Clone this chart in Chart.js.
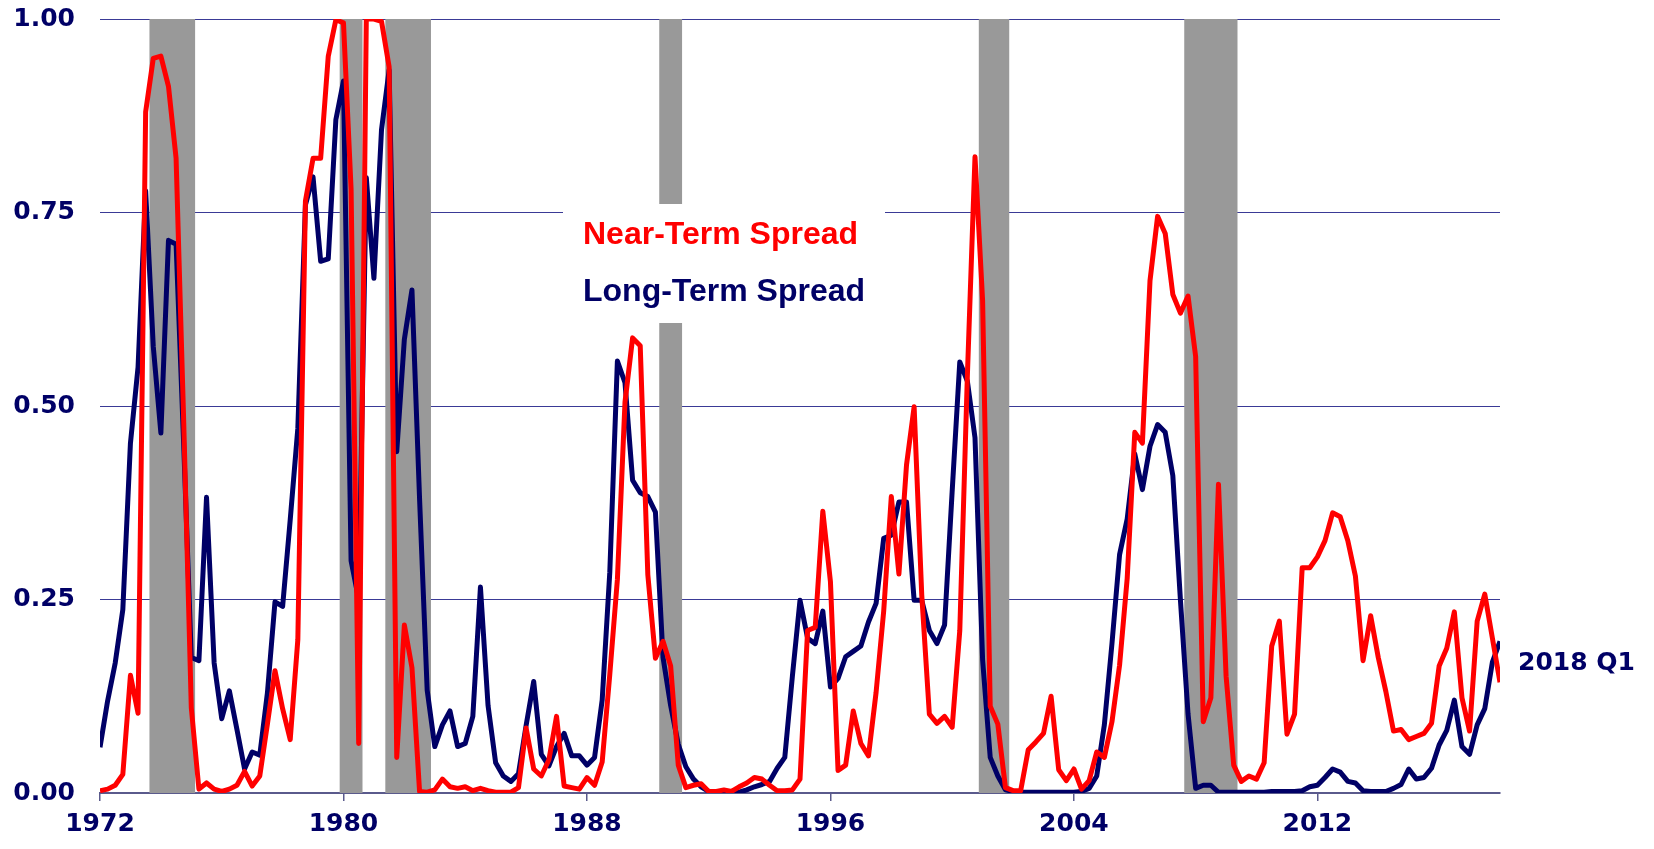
<!DOCTYPE html>
<html>
<head>
<meta charset="utf-8">
<title>Near-Term vs Long-Term Spread</title>
<script src="https://cdn.jsdelivr.net/npm/chart.js@4.4.1/dist/chart.umd.min.js"></script>
<style>
    html, body { margin: 0; padding: 0; background: #ffffff; }
    #wrap { width: 1654px; height: 849px; }
</style>
</head>
<body>
<div id="wrap"><canvas id="spreadChart" width="1654" height="849"></canvas></div>
<script>
// quarterly, 1972 Q1 .. 2018 Q1
const startYear = 1972;

const nearTerm = [
    0.003, 0.005, 0.010, 0.024,   // 1972
    0.152, 0.103, 0.880, 0.949,   // 1973
    0.952, 0.913, 0.820, 0.480,   // 1974
    0.110, 0.005, 0.013, 0.005,   // 1975
    0.002, 0.005, 0.010, 0.028,   // 1976
    0.009, 0.022, 0.089, 0.158,   // 1977
    0.109, 0.069, 0.198, 0.765,   // 1978
    0.820, 0.820, 0.952, 0.999,   // 1979
    0.995, 0.780, 0.064, 1.000,   // 1980
    1.000, 0.997, 0.938, 0.046,   // 1981
    0.217, 0.162, 0.002, 0.001,   // 1982
    0.004, 0.018, 0.008, 0.006,   // 1983
    0.008, 0.003, 0.006, 0.003,   // 1984
    0.001, 0.001, 0.001, 0.007,   // 1985
    0.084, 0.031, 0.022, 0.043,   // 1986
    0.099, 0.009, 0.007, 0.005,   // 1987
    0.020, 0.010, 0.040, 0.153,   // 1988
    0.276, 0.505, 0.588, 0.578,   // 1989
    0.282, 0.174, 0.196, 0.164,   // 1990
    0.036, 0.007, 0.010, 0.012,   // 1991
    0.002, 0.002, 0.004, 0.002,   // 1992
    0.008, 0.013, 0.020, 0.018,   // 1993
    0.010, 0.003, 0.003, 0.004,   // 1994
    0.018, 0.210, 0.214, 0.364,   // 1995
    0.273, 0.029, 0.036, 0.106,   // 1996
    0.064, 0.048, 0.130, 0.235,   // 1997
    0.383, 0.283, 0.424, 0.499,   // 1998
    0.256, 0.102, 0.090, 0.099,   // 1999
    0.085, 0.210, 0.540, 0.822,   // 2000
    0.636, 0.112, 0.089, 0.007,   // 2001
    0.003, 0.003, 0.056, 0.066,   // 2002
    0.077, 0.125, 0.030, 0.016,   // 2003
    0.031, 0.005, 0.016, 0.053,   // 2004
    0.046, 0.092, 0.165, 0.277,   // 2005
    0.466, 0.452, 0.662, 0.745,   // 2006
    0.723, 0.644, 0.620, 0.642,   // 2007
    0.564, 0.092, 0.123, 0.399,   // 2008
    0.151, 0.036, 0.015, 0.022,   // 2009
    0.018, 0.039, 0.190, 0.222,   // 2010
    0.076, 0.102, 0.291, 0.291,   // 2011
    0.305, 0.326, 0.362, 0.357,   // 2012
    0.326, 0.280, 0.171, 0.229,   // 2013
    0.175, 0.131, 0.080, 0.082,   // 2014
    0.069, 0.073, 0.077, 0.090,   // 2015
    0.164, 0.187, 0.234, 0.123,   // 2016
    0.080, 0.222, 0.257, 0.200,   // 2017
    0.143                         // 2018 Q1
];

const longTerm = [
    0.059, 0.119, 0.168, 0.237,   // 1972
    0.452, 0.550, 0.778, 0.577,   // 1973
    0.465, 0.714, 0.709, 0.450,   // 1974
    0.175, 0.171, 0.382, 0.168,   // 1975
    0.096, 0.132, 0.082, 0.031,   // 1976
    0.053, 0.049, 0.129, 0.247,   // 1977
    0.241, 0.353, 0.471, 0.760,   // 1978
    0.796, 0.687, 0.690, 0.870,   // 1979
    0.920, 0.300, 0.250, 0.795,   // 1980
    0.665, 0.857, 0.934, 0.441,   // 1981
    0.586, 0.650, 0.380, 0.133,   // 1982
    0.060, 0.088, 0.106, 0.060,   // 1983
    0.064, 0.099, 0.266, 0.113,   // 1984
    0.039, 0.022, 0.015, 0.025,   // 1985
    0.087, 0.144, 0.050, 0.035,   // 1986
    0.060, 0.077, 0.048, 0.048,   // 1987
    0.036, 0.046, 0.120, 0.285,   // 1988
    0.558, 0.530, 0.404, 0.388,   // 1989
    0.383, 0.363, 0.175, 0.113,   // 1990
    0.063, 0.034, 0.018, 0.008,   // 1991
    0.002, 0.001, 0.001, 0.001,   // 1992
    0.001, 0.004, 0.008, 0.011,   // 1993
    0.015, 0.032, 0.046, 0.151,   // 1994
    0.249, 0.200, 0.193, 0.235,   // 1995
    0.137, 0.148, 0.176, 0.183,   // 1996
    0.190, 0.221, 0.245, 0.329,   // 1997
    0.333, 0.376, 0.376, 0.249,   // 1998
    0.249, 0.210, 0.193, 0.217,   // 1999
    0.390, 0.557, 0.532, 0.459,   // 2000
    0.172, 0.046, 0.022, 0.004,   // 2001
    0.002, 0.001, 0.001, 0.001,   // 2002
    0.001, 0.001, 0.001, 0.001,   // 2003
    0.001, 0.002, 0.006, 0.022,   // 2004
    0.088, 0.193, 0.308, 0.354,   // 2005
    0.438, 0.392, 0.448, 0.476,   // 2006
    0.466, 0.410, 0.249, 0.102,   // 2007
    0.006, 0.010, 0.010, 0.001,   // 2008
    0.001, 0.001, 0.001, 0.001,   // 2009
    0.001, 0.001, 0.002, 0.002,   // 2010
    0.002, 0.002, 0.003, 0.008,   // 2011
    0.010, 0.020, 0.031, 0.027,   // 2012
    0.015, 0.013, 0.003, 0.002,   // 2013
    0.002, 0.002, 0.006, 0.011,   // 2014
    0.031, 0.018, 0.020, 0.032,   // 2015
    0.062, 0.081, 0.120, 0.060,   // 2016
    0.050, 0.088, 0.109, 0.169,   // 2017
    0.196                         // 2018 Q1
];

// NBER recessions, first and last quarter
const recessions = [
    ['1973Q4', '1975Q1'],
    ['1980Q1', '1980Q3'],
    ['1981Q3', '1982Q4'],
    ['1990Q3', '1991Q1'],
    ['2001Q1', '2001Q4'],
    ['2007Q4', '2009Q2']
];

const xTicks = [1972, 1980, 1988, 1996, 2004, 2012];
const yTicks = [0, 0.25, 0.5, 0.75, 1];
const seriesNames = ['Near-Term Spread', 'Long-Term Spread'];
const endLabel = '2018 Q1';

const RED = '#ff0000';
const NAVY = '#000066';
const GRID = '#3a3a96';

function quarterToYear(q) {
    const [y, n] = q.split('Q');
    return Number(y) + (Number(n) - 1) / 4;
}

const toPoints = arr => arr.map((v, i) => ({ x: startYear + i / 4, y: v }));

const recessionShading = {
    id: 'recessionShading',
    beforeDatasetsDraw(chart) {
        const { ctx, chartArea, scales: { x } } = chart;
        ctx.save();
        ctx.fillStyle = '#999999';
        recessions.forEach(([s, e]) => {
            const x0 = x.getPixelForValue(quarterToYear(s) - 0.125);
            const x1 = x.getPixelForValue(quarterToYear(e) + 0.125);
            ctx.fillRect(x0, chartArea.top, x1 - x0, chartArea.bottom - chartArea.top);
        });
        // white box behind the series names
        ctx.fillStyle = '#ffffff';
        ctx.fillRect(563, 204, 322, 119);
        ctx.font = 'bold 32px "Liberation Sans", Arial, sans-serif';
        ctx.textAlign = 'left';
        ctx.textBaseline = 'middle';
        ctx.fillStyle = RED;
        ctx.fillText(seriesNames[0], 583, 235);
        ctx.fillStyle = NAVY;
        ctx.fillText(seriesNames[1], 583, 292);
        ctx.restore();
    }
};

const endLabelPlugin = {
    id: 'endLabel',
    afterDraw(chart) {
        const { ctx, chartArea, scales: { y } } = chart;
        const last = (nearTerm[nearTerm.length - 1] + longTerm[longTerm.length - 1]) / 2;
        ctx.save();
        ctx.font = 'bold 25px "DejaVu Sans", Verdana, sans-serif';
        ctx.fillStyle = NAVY;
        ctx.textAlign = 'left';
        ctx.textBaseline = 'middle';
        ctx.fillText(endLabel, chartArea.right + 18, y.getPixelForValue(last) + 2);
        ctx.restore();
    }
};

const tickFont = { family: '"DejaVu Sans", Verdana, sans-serif', size: 25, weight: 'bold' };

new Chart(document.getElementById('spreadChart').getContext('2d'), {
    type: 'line',
    data: {
        datasets: [
            {
                label: seriesNames[0],
                data: toPoints(nearTerm),
                borderColor: RED,
                borderWidth: 5,
                pointRadius: 0,
                tension: 0,
                borderJoinStyle: 'round',
                order: 0
            },
            {
                label: seriesNames[1],
                data: toPoints(longTerm),
                borderColor: NAVY,
                borderWidth: 5,
                pointRadius: 0,
                tension: 0,
                borderJoinStyle: 'round',
                order: 1
            }
        ]
    },
    options: {
        responsive: false,
        animation: false,
        layout: { padding: { top: 19, right: 154, bottom: 0, left: 0 } },
        plugins: {
            legend: { display: false },
            tooltip: { enabled: false }
        },
        scales: {
            x: {
                type: 'linear',
                min: startYear,
                max: startYear + (nearTerm.length - 1) / 4,
                afterBuildTicks: scale => { scale.ticks = xTicks.map(v => ({ value: v })); },
                afterFit: scale => { scale.height = 56; },
                ticks: {
                    color: NAVY,
                    font: tickFont,
                    padding: 8,
                    maxRotation: 0,
                    callback: v => String(v)
                },
                grid: {
                    drawOnChartArea: false,
                    drawTicks: true,
                    tickLength: 8,
                    color: '#5a5a8c',
                    lineWidth: 1.5
                },
                border: { display: true, color: '#5a5a8c', width: 2 }
            },
            y: {
                min: 0,
                max: 1,
                afterBuildTicks: scale => { scale.ticks = yTicks.map(v => ({ value: v })); },
                afterFit: scale => { scale.width = 100; },
                ticks: {
                    color: NAVY,
                    font: tickFont,
                    padding: 0,
                    callback: v => Number(v).toFixed(2)
                },
                grid: {
                    drawTicks: true,
                    tickLength: 25,
                    tickColor: 'rgba(0,0,0,0)',
                    color: GRID,
                    lineWidth: 1
                },
                border: { display: false }
            }
        }
    },
    plugins: [recessionShading, endLabelPlugin]
});
</script>
</body>
</html>
